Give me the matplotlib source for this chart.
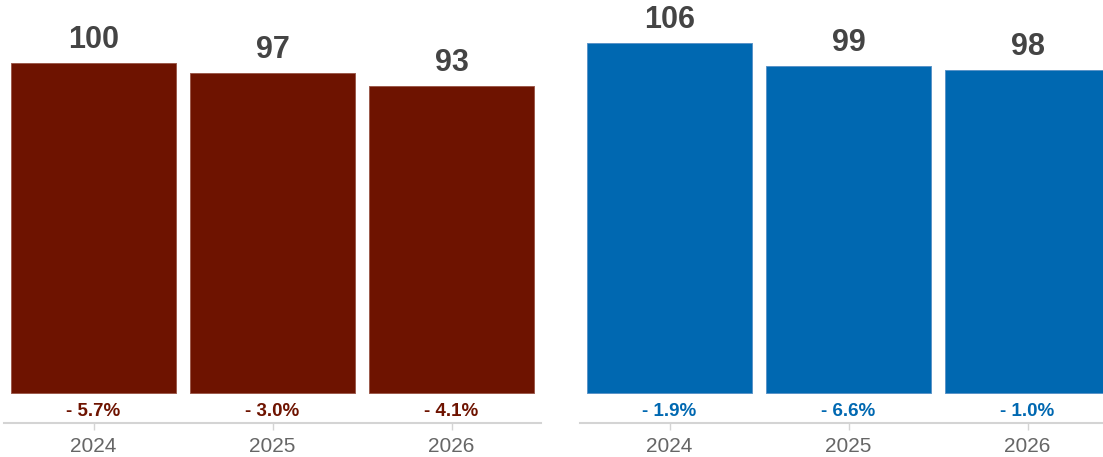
import matplotlib
matplotlib.use("Agg")
import matplotlib.pyplot as plt

plt.rcParams['font.family'] = ['Liberation Sans', 'DejaVu Sans']

years = ["2024", "2025", "2026"]
left_values = [100, 97, 93]
left_changes = ["- 5.7%", "- 3.0%", "- 4.1%"]
right_values = [106, 99, 98]
right_changes = ["- 1.9%", "- 6.6%", "- 1.0%"]

LEFT_COLOR = "#6E1300"
RIGHT_COLOR = "#0068B1"
W, H = 1103, 457

fig = plt.figure(figsize=(W / 100, H / 100), dpi=100)


def panel(left_px, values, changes, color, edge):
    ax = fig.add_axes([left_px / W, (H - 423) / H, 537 / W, 423 / H])
    x = range(len(years))
    ax.bar(x, values, width=0.925, color=color, edgecolor=edge, linewidth=0.7)
    ax.set_xlim(-0.5, 2.5)
    ax.set_ylim(-9.1, 119.1)
    for xi, v, c in zip(x, values, changes):
        ax.text(xi, v + 2.4, str(v), ha="center", va="bottom",
                fontsize=22, fontweight="bold", color="#444444")
        ax.text(xi, -5.6, c, ha="center", va="center",
                fontsize=13.5, fontweight="bold", color=color)
    ax.set_xticks(list(x))
    ax.set_xticklabels(years, fontsize=15, color="#666666")
    ax.tick_params(axis="x", length=5, width=1, color="#d4d4d4", pad=5)
    ax.set_yticks([])
    for s in ("top", "right", "left"):
        ax.spines[s].set_visible(False)
    ax.spines["bottom"].set_color("#d4d4d4")
    ax.spines["bottom"].set_linewidth(1.5)
    ax.patch.set_alpha(0)
    return ax


panel(4, left_values, left_changes, LEFT_COLOR, "#9c5a4c")
panel(580, right_values, right_changes, RIGHT_COLOR, "#5a94c8")

fig.savefig("out.png", dpi=100)
